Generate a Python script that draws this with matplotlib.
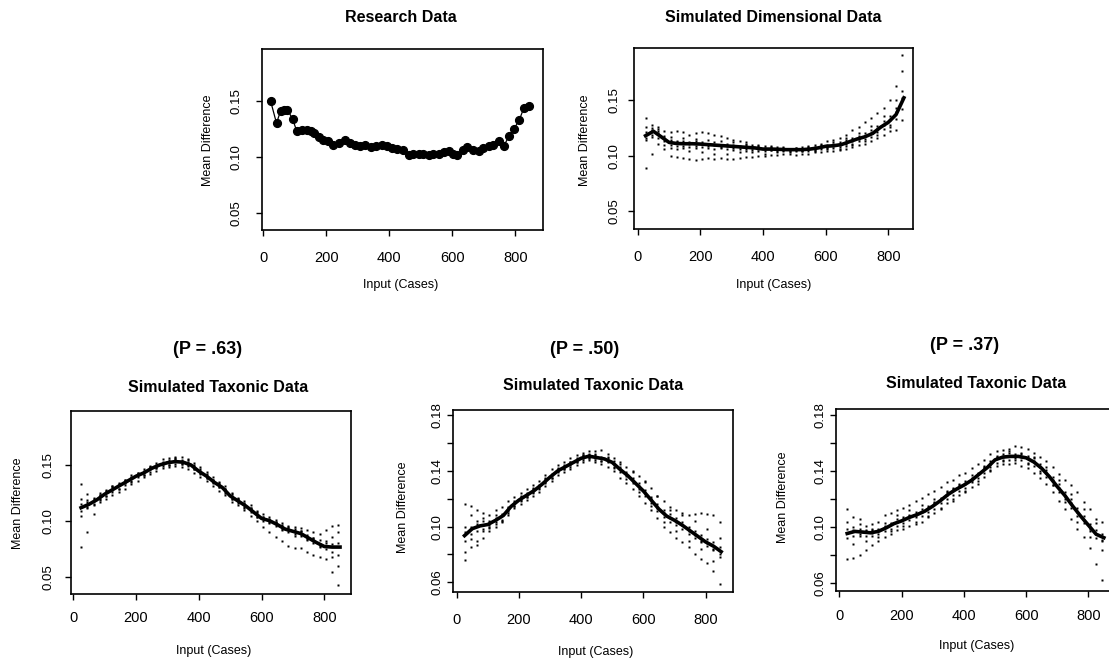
import matplotlib
matplotlib.use("Agg")
import matplotlib.pyplot as plt

plt.rcParams['font.family'] = ['Liberation Sans', 'DejaVu Sans']

# ---------------- data ----------------
research_x = [23, 42, 55, 66, 76, 93, 106, 123, 138, 150, 161, 178, 190, 207, 222, 239,
              258, 275, 292, 307, 324, 341, 358, 377, 392, 408, 425, 442, 461, 476, 493,
              508, 525, 540, 557, 574, 588, 601, 614, 633, 648, 667, 684, 698, 715, 730,
              747, 764, 781, 796, 813, 827, 844]
research_y = [0.150, 0.130, 0.141, 0.142, 0.142, 0.134, 0.123, 0.124, 0.124, 0.123, 0.121,
              0.118, 0.115, 0.114, 0.111, 0.1125, 0.115, 0.1125, 0.111, 0.1095, 0.111, 0.109,
              0.110, 0.111, 0.1095, 0.1075, 0.107, 0.1065, 0.102, 0.103, 0.103, 0.1025, 0.102,
              0.1025, 0.103, 0.104, 0.105, 0.1025, 0.1015, 0.106, 0.109, 0.106, 0.105, 0.108,
              0.1095, 0.111, 0.1145, 0.110, 0.119, 0.125, 0.133, 0.1435, 0.145]

line_x = [25, 50, 75, 100, 125, 150, 175, 200, 225, 250, 275, 300, 325, 350, 375, 400, 425,
          450, 475, 500, 525, 550, 575, 600, 625, 650, 675, 700, 725, 750, 775, 800, 825, 850]

sim_x = [25, 45, 65, 85, 105, 125, 145, 165, 185, 205, 225, 245, 265, 285, 305, 325, 345,
         365, 385, 405, 425, 445, 465, 485, 505, 525, 545, 565, 585, 605, 625, 645, 665, 685,
         705, 725, 745, 765, 785, 805, 825, 845]

# Simulated dimensional data
dim_line = [0.118, 0.122, 0.117, 0.112, 0.111, 0.1108, 0.1108, 0.1105, 0.110, 0.1095, 0.109,
            0.1085, 0.108, 0.1075, 0.107, 0.106, 0.106, 0.1058, 0.1055, 0.1055, 0.1055, 0.106,
            0.107, 0.1085, 0.109, 0.110, 0.1125, 0.115, 0.117, 0.120, 0.1255, 0.130, 0.137, 0.152]
dim_rep_a = [.134, .128, .126, .122, .121, .122, .121, .119, .120, .121, .120, .119, .118, .116,
             .114, .113, .112, .110, .109, .109, .108, .108, .107, .106, .107, .108, .109, .110,
             .111, .113, .114, .116, .119, .123, .126, .130, .134, .138, .143, .150, .163, .190]
dim_rep_b = [.089, .102, .111, .106, .100, .099, .098, .097, .096, .097, .098, .097, .098, .097,
             .097, .098, .099, .099, .100, .100, .101, .101, .102, .102, .101, .102, .102, .103,
             .103, .104, .104, .105, .106, .108, .110, .111, .113, .116, .119, .122, .123, .132]
dim_rep_c = [.121, .125, .122, .118, .114, .112, .113, .111, .113, .112, .111, .112, .110, .111,
             .110, .109, .110, .108, .108, .107, .107, .106, .106, .106, .105, .106, .107, .108,
             .109, .110, .111, .112, .114, .116, .118, .120, .123, .127, .131, .136, .143, .158]
dim_rep_d = [.114, .117, .116, .110, .107, .109, .107, .108, .107, .108, .107, .106, .107, .106,
             .105, .106, .104, .105, .104, .104, .105, .104, .104, .104, .104, .104, .104, .105,
             .106, .107, .107, .108, .109, .111, .113, .115, .117, .121, .124, .128, .133, .142]
dim_rep_e = [.126, .119, .124, .116, .117, .106, .116, .104, .115, .103, .114, .102, .113, .102,
             .112, .103, .111, .103, .110, .102, .109, .103, .108, .103, .107, .104, .108, .104,
             .110, .106, .112, .106, .116, .110, .120, .113, .127, .119, .136, .126, .150, .176]
dim_rep_f = [.116, .123, .120, .113, .110, .113, .109, .112, .109, .111, .109, .110, .108, .109,
             .107, .108, .106, .107, .106, .106, .105, .106, .105, .105, .106, .105, .106, .106,
             .108, .108, .109, .110, .111, .113, .115, .118, .120, .124, .128, .132, .139, .152]

# Simulated taxonic data, P = .63
p63_line = [0.112, 0.115, 0.119, 0.124, 0.128, 0.132, 0.136, 0.140, 0.143, 0.147, 0.150, 0.152,
            0.153, 0.1525, 0.150, 0.1445, 0.140, 0.1345, 0.130, 0.1225, 0.118, 0.1135, 0.108,
            0.1025, 0.1005, 0.097, 0.093, 0.091, 0.089, 0.085, 0.081, 0.0775, 0.077, 0.077]
p63_rep_a = [.133, .124, .121, .125, .128, .131, .134, .137, .141, .143, .146, .149, .152, .155,
             .156, .157, .157, .155, .152, .148, .144, .139, .135, .131, .125, .121, .118, .114,
             .109, .106, .104, .101, .098, .096, .095, .094, .092, .090, .089, .092, .096, .097]
p63_rep_b = [.077, .090, .106, .117, .120, .123, .126, .129, .133, .136, .139, .142, .145, .147,
             .148, .149, .148, .146, .143, .139, .136, .131, .127, .123, .117, .114, .110, .105,
             .100, .095, .090, .086, .082, .078, .076, .076, .073, .070, .068, .066, .055, .043]
p63_rep_c = [.115, .117, .120, .123, .127, .130, .133, .136, .139, .142, .145, .148, .150, .152,
             .154, .155, .154, .153, .150, .145, .142, .137, .134, .129, .124, .120, .116, .112,
             .108, .104, .102, .099, .097, .094, .093, .091, .088, .085, .083, .081, .080, .081]
p63_rep_d = [.109, .112, .115, .119, .122, .126, .129, .132, .136, .139, .141, .144, .147, .149,
             .150, .151, .151, .149, .146, .142, .138, .134, .130, .125, .120, .116, .113, .108,
             .104, .100, .099, .096, .093, .090, .089, .087, .084, .081, .078, .075, .073, .070]
p63_rep_e = [.105, .119, .114, .123, .122, .131, .129, .137, .135, .143, .141, .148, .147, .153,
             .150, .156, .151, .154, .146, .146, .138, .137, .130, .129, .120, .120, .112, .112,
             .104, .104, .098, .099, .092, .095, .087, .091, .083, .085, .077, .082, .068, .090]
p63_rep_f = [.120, .113, .118, .120, .126, .128, .132, .134, .138, .141, .144, .146, .149, .151,
             .153, .154, .153, .150, .148, .143, .140, .135, .132, .127, .122, .118, .115, .110,
             .106, .102, .101, .098, .095, .092, .091, .089, .086, .083, .080, .078, .086, .060]

# Simulated taxonic data, P = .50
p50_line = [0.0935, 0.0985, 0.1005, 0.1015, 0.1045, 0.108, 0.1145, 0.119, 0.1225, 0.126,
            0.1305, 0.1355, 0.140, 0.143, 0.146, 0.149, 0.1505, 0.1495, 0.1485, 0.146, 0.141,
            0.1365, 0.131, 0.1255, 0.119, 0.1125, 0.1075, 0.1045, 0.101, 0.097, 0.093, 0.089,
            0.086, 0.082]
p50_rep_a = [.116, .115, .112, .110, .108, .112, .114, .118, .121, .124, .127, .130, .133, .137,
             .141, .144, .146, .149, .151, .153, .154, .154, .155, .152, .149, .146, .143, .140,
             .136, .133, .128, .122, .118, .114, .112, .110, .108, .109, .110, .109, .108, .103]
p50_rep_b = [.076, .085, .087, .092, .097, .100, .103, .108, .113, .116, .119, .122, .125, .129,
             .133, .137, .139, .141, .144, .146, .148, .146, .145, .143, .140, .135, .131, .127,
             .122, .117, .112, .106, .100, .096, .092, .089, .085, .080, .077, .074, .068, .059]
p50_rep_c = [.096, .100, .102, .104, .104, .106, .109, .113, .118, .121, .124, .127, .130, .134,
             .138, .141, .144, .146, .149, .151, .152, .151, .150, .149, .147, .143, .139, .135,
             .131, .126, .121, .116, .112, .109, .106, .103, .100, .097, .094, .091, .089, .085]
p50_rep_d = [.090, .095, .097, .098, .100, .103, .105, .110, .115, .118, .121, .124, .127, .131,
             .135, .139, .141, .143, .146, .148, .149, .148, .147, .146, .143, .139, .136, .131,
             .127, .122, .117, .111, .107, .103, .101, .098, .095, .092, .089, .086, .083, .080]
p50_rep_e = [.082, .108, .090, .106, .099, .108, .104, .114, .115, .122, .121, .128, .128, .135,
             .135, .142, .141, .146, .146, .151, .149, .152, .147, .150, .142, .145, .134, .139,
             .125, .132, .115, .122, .103, .112, .097, .108, .090, .104, .084, .098, .075, .092]
p50_rep_f = [.100, .091, .104, .097, .101, .102, .108, .111, .117, .119, .123, .125, .129, .132,
             .137, .140, .143, .144, .148, .149, .151, .149, .149, .147, .145, .141, .138, .133,
             .129, .124, .120, .113, .110, .106, .103, .101, .097, .094, .090, .088, .084, .078]

# Simulated taxonic data, P = .37
p37_line = [0.0955, 0.097, 0.0965, 0.096, 0.097, 0.0995, 0.1025, 0.1045, 0.107, 0.109, 0.1115,
            0.115, 0.119, 0.1235, 0.127, 0.130, 0.1335, 0.138, 0.1425, 0.148, 0.150, 0.1505,
            0.1505, 0.1495, 0.1465, 0.142, 0.136, 0.129, 0.1225, 0.115, 0.108, 0.1015, 0.095,
            0.0925]
p37_rep_a = [.113, .107, .106, .101, .102, .104, .109, .110, .112, .114, .116, .119, .121, .124,
             .126, .129, .132, .134, .137, .139, .142, .145, .148, .152, .154, .155, .156, .158,
             .157, .156, .153, .150, .147, .143, .138, .134, .130, .125, .118, .113, .106, .104]
p37_rep_b = [.077, .078, .080, .084, .087, .090, .093, .095, .098, .099, .101, .102, .104, .107,
             .110, .113, .117, .120, .123, .126, .129, .133, .136, .141, .144, .145, .145, .146,
             .144, .142, .139, .135, .131, .125, .119, .113, .106, .099, .093, .085, .074, .062]
p37_rep_c = [.099, .100, .099, .098, .098, .099, .101, .103, .106, .107, .109, .111, .113, .115,
             .118, .121, .125, .128, .130, .133, .135, .139, .143, .147, .150, .152, .153, .152,
             .152, .151, .149, .145, .141, .136, .131, .125, .120, .114, .108, .102, .098, .095]
p37_rep_d = [.092, .094, .094, .094, .094, .095, .097, .099, .101, .103, .105, .107, .108, .111,
             .113, .117, .120, .123, .126, .128, .132, .135, .139, .143, .146, .148, .148, .149,
             .148, .146, .144, .140, .136, .130, .125, .120, .114, .108, .103, .097, .092, .090]
p37_rep_e = [.104, .088, .102, .090, .099, .093, .103, .097, .109, .101, .112, .104, .116, .108,
             .120, .114, .126, .119, .131, .125, .137, .131, .144, .140, .151, .147, .154, .148,
             .153, .145, .150, .139, .143, .130, .134, .118, .124, .104, .113, .093, .103, .084]
p37_rep_f = [.096, .098, .095, .097, .096, .098, .100, .102, .104, .106, .108, .109, .111, .114,
             .117, .120, .123, .127, .129, .131, .134, .138, .142, .145, .149, .150, .151, .151,
             .150, .149, .147, .143, .139, .134, .128, .122, .117, .111, .105, .099, .095, .091]

x_ticks = [0, 200, 400, 600, 800]
y_ticks_a = [0.05, 0.10, 0.15]
y_labels_a = ["0.05", "0.10", "0.15"]
y_ticks_b = [0.06, 0.08, 0.10, 0.12, 0.14, 0.16, 0.18]
y_labels_b = ["0.06", "", "0.10", "", "0.14", "", "0.18"]

# ---------------- figure ----------------
W, H = 1109, 661
fig = plt.figure(figsize=(W / 100, H / 100), dpi=100)
fig.patch.set_facecolor('white')


def px_axes(left, top, right, bottom):
    return fig.add_axes([left / W, 1 - bottom / H, (right - left) / W, (bottom - top) / H])


def ftext(x, y, s, **kw):
    fig.text(x / W, 1 - y / H, s, ha='center', va='center', **kw)


def style(ax, xlim, ylim, yt, yl, ypad, xpad):
    ax.set_xlim(*xlim)
    ax.set_ylim(*ylim)
    ax.set_xticks(x_ticks)
    ax.set_xticklabels([str(t) for t in x_ticks], fontsize=10.5)
    ax.set_yticks(yt)
    ax.set_yticklabels(yl, rotation=90, va='center', fontsize=9.5)
    ax.tick_params(axis='y', direction='out', length=4.5, width=1, pad=ypad)
    ax.tick_params(axis='x', direction='out', length=4.5, width=1, pad=xpad)
    for sp in ax.spines.values():
        sp.set_linewidth(1.2)
        sp.set_color('black')


sim_reps_style = dict(ls='none', marker='s', ms=2.1, color='black', mec='none')
line_style = dict(color='black', lw=2.6, solid_joinstyle='round')

# Panel 1: research data
ax1 = px_axes(261.7, 49, 542.7, 230)
ax1.plot(research_x, research_y, color='black', lw=0.9, marker='o', ms=5.6)
style(ax1, (-5, 887), (0.035, 0.196), y_ticks_a, y_labels_a, 9, 10.5)

# Panel 2: simulated dimensional data
ax2 = px_axes(634, 47.7, 913.3, 229.3)
for rep in (dim_rep_a, dim_rep_b, dim_rep_c, dim_rep_d, dim_rep_e, dim_rep_f):
    ax2.plot(sim_x, rep, **sim_reps_style)
ax2.plot(line_x, dim_line, **line_style)
style(ax2, (-12, 880), (0.034, 0.197), y_ticks_a, y_labels_a, 5.5, 10.5)

# Panel 3: P = .63
ax3 = px_axes(70.7, 411, 350.7, 594.3)
for rep in (p63_rep_a, p63_rep_b, p63_rep_c, p63_rep_d, p63_rep_e, p63_rep_f):
    ax3.plot(sim_x, rep, **sim_reps_style)
ax3.plot(line_x, p63_line, **line_style)
style(ax3, (-8, 884), (0.035, 0.198), y_ticks_a, y_labels_a, 7, 7.5)

# Panel 4: P = .50
ax4 = px_axes(452.7, 410, 733.3, 591.7)
for rep in (p50_rep_a, p50_rep_b, p50_rep_c, p50_rep_d, p50_rep_e, p50_rep_f):
    ax4.plot(sim_x, rep, **sim_reps_style)
ax4.plot(line_x, p50_line, **line_style)
style(ax4, (-13, 889), (0.0533, 0.1836), y_ticks_b, y_labels_b, 2, 11)

# Panel 5: P = .37
ax5 = px_axes(836, 409, 1116, 590.7)
for rep in (p37_rep_a, p37_rep_b, p37_rep_c, p37_rep_d, p37_rep_e, p37_rep_f):
    ax5.plot(sim_x, rep, **sim_reps_style)
ax5.plot(line_x, p37_line, **line_style)
style(ax5, (-11, 889), (0.0547, 0.1843), y_ticks_b, y_labels_b, 2.5, 9)

# Titles
tkw = dict(fontsize=11.5, fontweight='bold')
pkw = dict(fontsize=13, fontweight='bold')
ftext(401, 18, "Research Data", **tkw)
ftext(773, 18, "Simulated Dimensional Data", **tkw)
ftext(208, 350, "(P = .63)", **pkw)
ftext(218, 388, "Simulated Taxonic Data", **tkw)
ftext(585, 349, "(P = .50)", **pkw)
ftext(593, 385, "Simulated Taxonic Data", **tkw)
ftext(965, 345, "(P = .37)", **pkw)
ftext(976, 383, "Simulated Taxonic Data", **tkw)

# Axis labels
lkw = dict(fontsize=9)
ftext(401, 285, "Input (Cases)", **lkw)
ftext(774, 285, "Input (Cases)", **lkw)
ftext(214, 651, "Input (Cases)", **lkw)
ftext(596, 652, "Input (Cases)", **lkw)
ftext(977, 646, "Input (Cases)", **lkw)
ftext(208, 140, "Mean Difference", rotation=90, **lkw)
ftext(585, 140, "Mean Difference", rotation=90, **lkw)
ftext(18, 503, "Mean Difference", rotation=90, **lkw)
ftext(403, 507, "Mean Difference", rotation=90, **lkw)
ftext(783, 497, "Mean Difference", rotation=90, **lkw)

fig.savefig("out.png", dpi=100, facecolor='white')
